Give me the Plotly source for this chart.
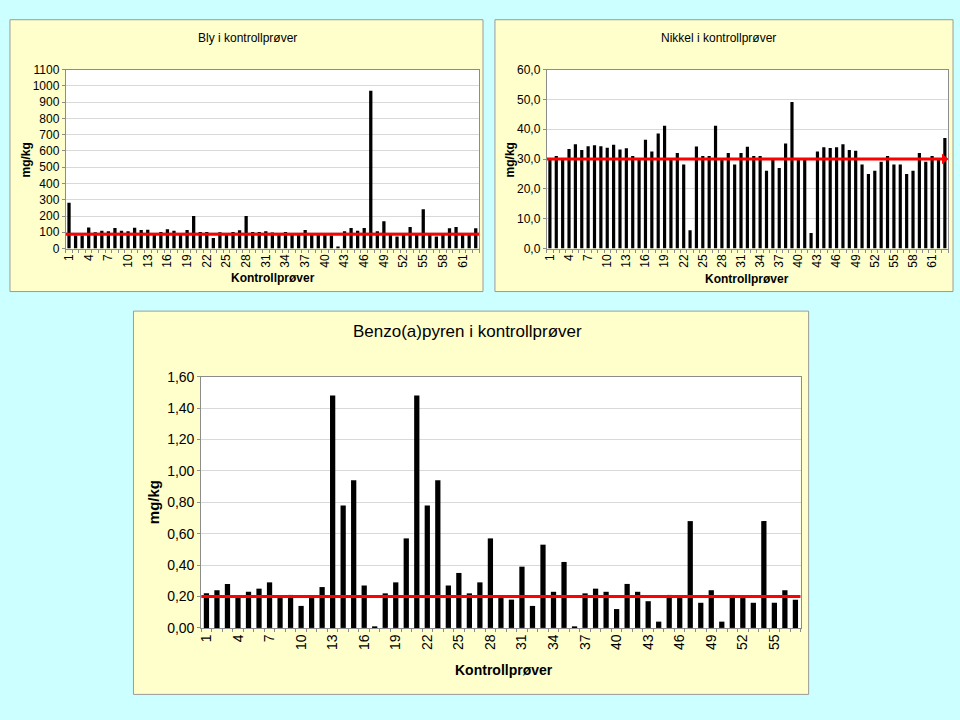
import plotly.graph_objects as go

# ---------------- DATA ----------------
bly_values = [282, 80, 80, 130, 100, 110, 106, 126, 110, 106,
              128, 114, 116, 90, 102, 118, 110, 85, 114, 200,
              102, 102, 64, 100, 88, 102, 112, 200, 102, 102,
              106, 98, 88, 102, 85, 85, 114, 85, 85, 85,
              80, 6, 106, 126, 110, 126, 970, 106, 168, 94,
              74, 85, 132, 85, 242, 94, 74, 85, 124, 132,
              85, 85, 124]
bly_ref = 88

nikkel_values = [30.0, 31.0, 30.0, 33.4, 35.0, 33.0, 34.3, 34.6, 34.3, 33.8,
                 34.8, 33.2, 33.6, 31.0, 29.8, 36.5, 32.5, 38.6, 41.2, 30.0,
                 32.0, 28.2, 6.1, 34.2, 31.0, 31.0, 41.2, 30.0, 32.0, 28.2,
                 32.0, 34.1, 31.0, 31.0, 26.1, 30.0, 27.0, 35.2, 49.1, 30.0,
                 30.0, 5.2, 32.5, 34.0, 33.7, 34.0, 35.0, 33.0, 32.8, 28.2,
                 25.0, 26.1, 29.1, 31.0, 28.2, 28.2, 25.0, 26.1, 32.0, 29.1,
                 31.0, 30.0, 37.1]
nikkel_ref = 30.0

benzo_values = [0.22, 0.24, 0.28, 0.19, 0.23, 0.25, 0.29, 0.19, 0.21, 0.14,
                0.19, 0.26, 1.48, 0.78, 0.94, 0.27, 0.01, 0.22, 0.29, 0.57,
                1.48, 0.78, 0.94, 0.27, 0.35, 0.22, 0.29, 0.57, 0.19, 0.18,
                0.39, 0.14, 0.53, 0.23, 0.42, 0.01, 0.22, 0.25, 0.23, 0.12,
                0.28, 0.23, 0.17, 0.04, 0.21, 0.19, 0.68, 0.16, 0.24, 0.04,
                0.21, 0.19, 0.16, 0.68, 0.16, 0.24, 0.18]
benzo_ref = 0.20

bly_title = "Bly i kontrollprøver"
nikkel_title = "Nikkel i kontrollprøver"
benzo_title = "Benzo(a)pyren i kontrollprøver"
x_title = "Kontrollprøver"
y_title = "mg/kg"

# ---------------- FIGURE ----------------
W, H = 960, 720
FONT = "Liberation Sans, Arial, sans-serif"
RED = "#ff0000"


def px_x(p):
    return p / W


def px_y(p):
    return 1 - p / H


fig = go.Figure()

panels = [
    # values, ref, axis suffix, plot box (l, r, t, b) in px
    (bly_values, bly_ref, "", (62, 477, 63, 246)),
    (nikkel_values, nikkel_ref, "2", (545, 948, 63, 246)),
    (benzo_values, benzo_ref, "3", (198, 800, 377, 634)),
]

for vals, ref, sfx, box in panels:
    n = len(vals)
    xs = list(range(1, n + 1))
    fig.add_trace(go.Bar(x=xs, y=vals, marker=dict(color="black", line=dict(width=0)),
                         xaxis="x" + sfx, yaxis="y" + sfx, showlegend=False))
    if sfx == "2":
        fig.add_trace(go.Scatter(x=[0.5, n - 0.3], y=[ref, ref], mode="lines",
                                 line=dict(color=RED, width=3),
                                 xaxis="x" + sfx, yaxis="y" + sfx, showlegend=False))
        fig.add_trace(go.Scatter(x=[n - 0.1], y=[ref], mode="markers",
                                 marker=dict(symbol="triangle-right", size=9, color=RED),
                                 xaxis="x" + sfx, yaxis="y" + sfx, showlegend=False))
    else:
        fig.add_trace(go.Scatter(x=[0.5, n + 0.5], y=[ref, ref], mode="lines",
                                 line=dict(color=RED, width=3),
                                 xaxis="x" + sfx, yaxis="y" + sfx, showlegend=False))

# background panels
shapes = []
for (x0, y0, x1, y1) in [(6, 12, 481, 290), (493, 12, 953, 290), (130, 310, 808, 702)]:
    shapes.append(dict(type="rect", xref="paper", yref="paper", layer="below",
                       x0=px_x(x0), x1=px_x(x1), y0=px_y(y1), y1=px_y(y0),
                       fillcolor="#ffffcc", line=dict(color="#9a9a9a", width=1)))
# white plot areas
for _, _, _, (l, r, t, b) in panels:
    shapes.append(dict(type="rect", xref="paper", yref="paper", layer="below",
                       x0=px_x(l), x1=px_x(r), y0=px_y(b), y1=px_y(t),
                       fillcolor="white", line=dict(width=0)))

common_x = dict(showgrid=False, zeroline=False, showline=True, linecolor="#8c8c8c",
                linewidth=1, mirror=True, ticks="", tickangle=-90,
                minor=dict(ticks="outside", dtick=1, tick0=0.5, ticklen=3,
                           tickcolor="#8c8c8c", showgrid=False))
common_y = dict(showgrid=True, gridcolor="#d9d9d9", gridwidth=1, zeroline=False,
                showline=True, linecolor="#8c8c8c", linewidth=1, mirror=True,
                ticks="outside", ticklen=3, tickcolor="#8c8c8c")

small = dict(family=FONT, size=12, color="black")
big = dict(family=FONT, size=14, color="black")

fig.update_layout(
    width=W, height=H, margin=dict(l=0, r=0, t=0, b=0),
    paper_bgcolor="#ccffff", plot_bgcolor="rgba(0,0,0,0)",
    separators=", ", bargap=0.5, showlegend=False,
    shapes=shapes,
    xaxis=dict(common_x, domain=[px_x(62), px_x(477)], range=[0.5, len(bly_values) + 0.5],
               tickvals=list(range(1, len(bly_values) + 1, 3)), tickfont=small, anchor="y"),
    yaxis=dict(common_y, domain=[px_y(246), px_y(63)], range=[0, 1100], dtick=100,
               tickfont=small, anchor="x"),
    xaxis2=dict(common_x, domain=[px_x(545), px_x(948)], range=[0.5, len(nikkel_values) + 0.5],
                tickvals=list(range(1, len(nikkel_values) + 1, 3)), tickfont=small, anchor="y2"),
    yaxis2=dict(common_y, domain=[px_y(246), px_y(63)], range=[0, 60], dtick=10,
                tickformat=".1f", tickfont=small, anchor="x2"),
    xaxis3=dict(common_x, domain=[px_x(198), px_x(800)], range=[0.5, len(benzo_values) + 0.5],
                tickvals=list(range(1, len(benzo_values) + 1, 3)), tickfont=big, anchor="y3"),
    yaxis3=dict(common_y, domain=[px_y(634), px_y(377)], range=[0, 1.6], dtick=0.2,
                tickformat=".2f", tickfont=big, anchor="x3"),
)

ann = [
    dict(text=bly_title, x=px_x(245), y=px_y(31), font=dict(family=FONT, size=12)),
    dict(text=nikkel_title, x=px_x(717), y=px_y(31), font=dict(family=FONT, size=12)),
    dict(text="<b>" + x_title + "</b>", x=px_x(270), y=px_y(276), font=dict(family=FONT, size=12)),
    dict(text="<b>" + x_title + "</b>", x=px_x(746), y=px_y(277), font=dict(family=FONT, size=12)),
    dict(text="<b>" + y_title + "</b>", x=px_x(22), y=px_y(155), textangle=-90, font=dict(family=FONT, size=12)),
    dict(text="<b>" + y_title + "</b>", x=px_x(508), y=px_y(155), textangle=-90, font=dict(family=FONT, size=12)),
    dict(text=benzo_title, x=px_x(465), y=px_y(331), font=dict(family=FONT, size=17)),
    dict(text="<b>" + x_title + "</b>", x=px_x(502), y=px_y(677), font=dict(family=FONT, size=14)),
    dict(text="<b>" + y_title + "</b>", x=px_x(150), y=px_y(505), textangle=-90, font=dict(family=FONT, size=15)),
]
for a in ann:
    a.update(xref="paper", yref="paper", showarrow=False, xanchor="center", yanchor="middle")
    a["font"]["color"] = "black"
fig.update_layout(annotations=ann)

fig.write_html("out.html", config={"displayModeBar": False},
               post_script="document.body.style.margin='0';document.body.style.overflow='hidden';")
